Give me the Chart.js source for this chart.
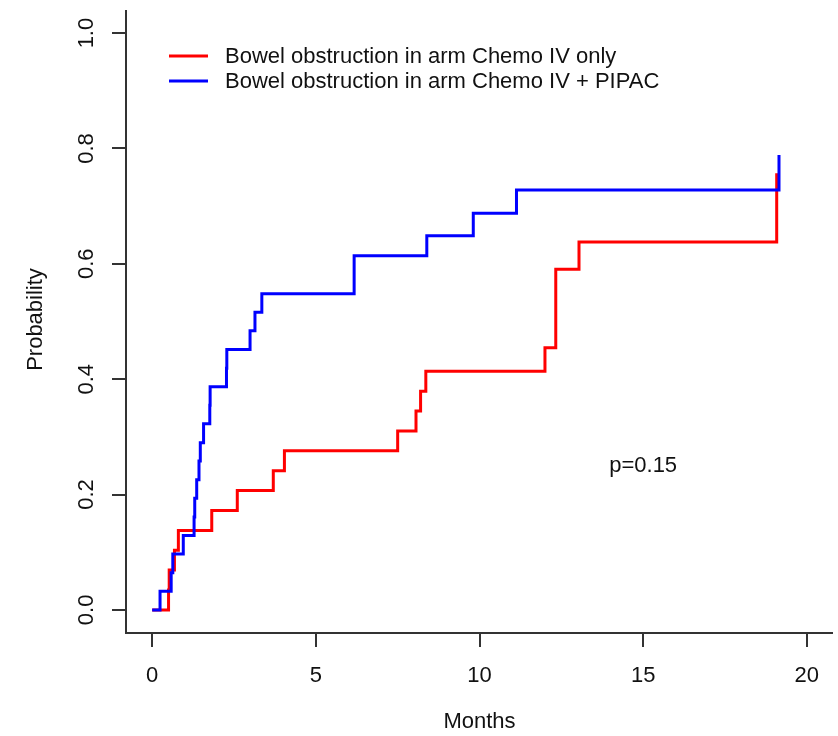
<!DOCTYPE html>
<html>
<head>
<meta charset="utf-8">
<script src="https://cdn.jsdelivr.net/npm/chart.js@4"></script>
<style>
  html, body { margin: 0; padding: 0; background: #fff; }
  #wrap { width: 838px; height: 736px; }
</style>
</head>
<body>
<div id="wrap"><canvas id="kmChart" width="838" height="736"></canvas></div>
<script>
// Data (time in months, cumulative probability)
const redLabel = 'Bowel obstruction in arm Chemo IV only';
const redTimes = [0, 0.50, 0.52, 0.68, 0.80, 1.82, 2.60, 3.70, 4.04, 7.50, 8.06, 8.20, 8.36, 12.00, 12.33, 13.04, 19.08];
const redProb  = [0, 0.0345, 0.069, 0.1034, 0.1379, 0.1724, 0.2069, 0.2414, 0.2759, 0.3103, 0.3448, 0.3793, 0.4138, 0.4546, 0.5905, 0.638, 0.757];

const blueLabel = 'Bowel obstruction in arm Chemo IV + PIPAC';
const blueTimes = [0, 0.24, 0.58, 0.63, 0.95, 1.28, 1.30, 1.36, 1.43, 1.47, 1.57, 1.76, 1.77, 2.27, 2.28, 2.99, 3.14, 3.35, 6.17, 8.39, 9.81, 11.13, 19.15];
const blueProb  = [0, 0.0323, 0.0645, 0.0968, 0.129, 0.161, 0.1935, 0.2258, 0.258, 0.29, 0.3226, 0.355, 0.387, 0.419, 0.4516, 0.484, 0.516, 0.548, 0.614, 0.6487, 0.6875, 0.728, 0.7886];

const xTicks = [0, 5, 10, 15, 20];
const xTickLabels = ['0', '5', '10', '15', '20'];
const yTicks = [0, 0.2, 0.4, 0.6, 0.8, 1.0];
const yTickLabels = ['0.0', '0.2', '0.4', '0.6', '0.8', '1.0'];

const pText = 'p=0.15';
const pPos = [15, 0.25];

function toPoints(times, probs) {
  return times.map((t, i) => ({ x: t, y: probs[i] }));
}

const FONT = '22px "Liberation Sans", Arial, sans-serif';
const TEXT_COLOR = '#111';

// R-style axes, labels and legend
const rAxes = {
  id: 'rAxes',
  afterDraw(chart) {
    const c = chart.ctx;
    const xs = chart.scales.x;
    const ys = chart.scales.y;
    const area = chart.chartArea;

    c.save();
    c.strokeStyle = '#333';
    c.lineWidth = 2;
    // box lines (left + bottom)
    c.beginPath();
    c.moveTo(area.left, area.top);
    c.lineTo(area.left, area.bottom);
    c.lineTo(area.right, area.bottom);
    c.stroke();

    // ticks
    c.beginPath();
    xTicks.forEach(v => {
      const px = Math.round(xs.getPixelForValue(v));
      c.moveTo(px, area.bottom);
      c.lineTo(px, area.bottom + 14);
    });
    yTicks.forEach(v => {
      const py = Math.round(ys.getPixelForValue(v));
      c.moveTo(area.left, py);
      c.lineTo(area.left - 14, py);
    });
    c.stroke();

    c.fillStyle = TEXT_COLOR;
    c.font = FONT;
    c.textAlign = 'center';
    c.textBaseline = 'middle';
    xTicks.forEach((v, i) => {
      c.fillText(xTickLabels[i], xs.getPixelForValue(v), area.bottom + 43);
    });
    yTicks.forEach((v, i) => {
      c.save();
      c.translate(area.left - 39, ys.getPixelForValue(v));
      c.rotate(-Math.PI / 2);
      c.fillText(yTickLabels[i], 0, 0);
      c.restore();
    });

    // axis titles
    c.fillText('Months', (area.left + area.right) / 2, area.bottom + 89);
    c.save();
    c.translate(36, (area.top + area.bottom) / 2 - 2);
    c.rotate(-Math.PI / 2);
    c.fillText('Probability', 0, 0);
    c.restore();

    // p-value
    c.fillText(pText, xs.getPixelForValue(pPos[0]), ys.getPixelForValue(pPos[1]));

    // legend
    const legendItems = [
      { label: redLabel, color: '#ff0000', y: 56 },
      { label: blueLabel, color: '#0000ff', y: 81 }
    ];
    c.lineWidth = 3;
    c.textAlign = 'left';
    legendItems.forEach(item => {
      c.strokeStyle = item.color;
      c.beginPath();
      c.moveTo(169, item.y);
      c.lineTo(208, item.y);
      c.stroke();
      c.fillStyle = TEXT_COLOR;
      c.fillText(item.label, 225, item.y + 1);
    });
    c.restore();
  }
};

const ctx = document.getElementById('kmChart').getContext('2d');
const kmChart = new Chart(ctx, {
  type: 'line',
  data: {
    datasets: [{
      label: blueLabel,
      data: toPoints(blueTimes, blueProb),
      borderColor: '#0000ff',
      borderWidth: 3,
      stepped: 'before',
      pointRadius: 0,
      fill: false
    }, {
      label: redLabel,
      data: toPoints(redTimes, redProb),
      borderColor: '#ff0000',
      borderWidth: 3,
      stepped: 'before',
      pointRadius: 0,
      fill: false
    }]
  },
  options: {
    responsive: false,
    animation: false,
    layout: {
      padding: { left: 126, right: 5, top: 10, bottom: 103 }
    },
    plugins: {
      legend: { display: false },
      tooltip: { enabled: false }
    },
    scales: {
      x: { type: 'linear', min: -0.8, max: 20.8, display: false },
      y: { type: 'linear', min: -0.04, max: 1.04, display: false }
    }
  },
  plugins: [rAxes]
});
</script>
</body>
</html>
